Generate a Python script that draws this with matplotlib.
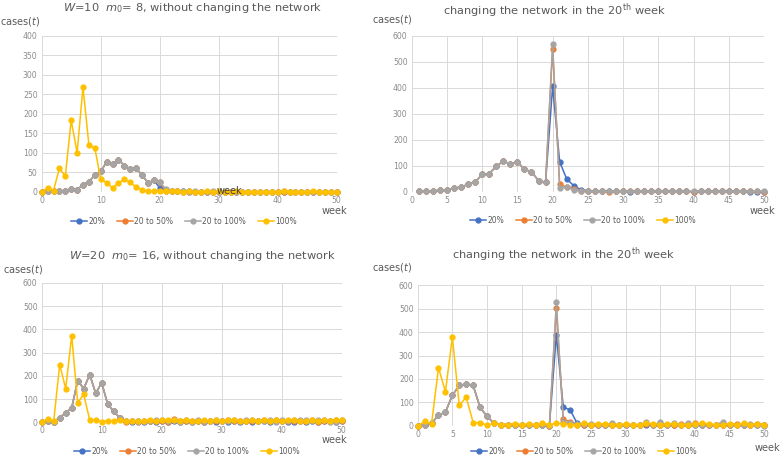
import matplotlib
matplotlib.use("Agg")
import matplotlib.pyplot as plt
from matplotlib.lines import Line2D

plt.rcParams['font.family'] = ['DejaVu Sans']

series_names = ["20%", "20 to 50%", "20 to 100%", "100%"]
colors = ["#4472C4", "#ED7D31", "#A5A5A5", "#FFC000"]

# ---------------- top-left: W=10, m0=8, without changing ----------------
tl_weeks = list(range(0, 51))
tl_gray = [0, 2, 3, 2, 2, 8, 5, 18, 26, 42, 52, 76, 71, 82, 67, 59, 60, 43, 23, 29,
           24, 8, 3, 2, 1, 0, 1, 0, 0, 2, 0, 0, 0, 0, 0, 0, 0, 0, 0, 0,
           0, 2, 0, 0, 0, 0, 0, 0, 0, 0, 0]
tl_blue = tl_gray[:20] + [10, 5, 3, 3, 2, 1, 0, 0, 0, 0, 0, 0, 0, 0, 0, 0, 0, 0, 0, 0,
                          0, 0, 0, 0, 0, 0, 0, 0, 0, 0, 0]
tl_orange = tl_gray[:21] + [2, 1, 1, 0, 0, 0, 0, 0, 0, 0, 0, 0, 0, 0, 0, 0, 0, 0, 0, 0,
                            0, 0, 0, 0, 0, 0, 0, 0, 0, 0]
tl_yellow = [0, 10, 3, 60, 40, 183, 100, 268, 120, 112, 33, 23, 10, 22, 32, 24, 12, 5, 1, 1,
             2, 2, 1, 1, 0, 2, 0, 0, 1, 0, 1, 0, 0, 1, 0, 0, 0, 0, 0, 0,
             0, 1, 0, 0, 0, 0, 1, 0, 0, 0, 0]

# ---------------- top-right: changing the network in week 20 ----------------
tr_weeks = list(range(1, 51))
tr_gray = [1, 3, 3, 5, 6, 13, 18, 28, 37, 67, 70, 97, 118, 106, 115, 86, 77, 42, 36,
           568,
           15, 18, 6, 4, 3, 2, 2, 1, 2, 1, 1, 1, 2, 1, 1, 2, 3, 2, 2, 1,
           2, 1, 1, 1, 2, 2, 1, 1, 1, 1]
tr_orange = tr_gray[:19] + [548,
                            28, 18, 12, 3, 2, 1, 1, 0, 2, 3, 1, 3, 2, 1, 3, 1, 2, 1, 1, 0,
                            1, 1, 2, 1, 2, 3, 2, 1, 1, 0]
tr_blue = tr_gray[:19] + [405,
                          115, 49, 23, 8, 4, 2, 4, 1, 1, 1, 0, 1, 1, 1, 1, 2, 2, 1, 1, 0,
                          1, 1, 1, 2, 1, 1, 1, 0, 0, 0]
tr_yellow = []

# ---------------- bottom-left: W=20, m0=16, without changing ----------------
bl_weeks = list(range(0, 51))
bl_gray = [0, 5, 2, 20, 42, 62, 180, 145, 205, 125, 170, 78, 47, 20, 5, 5, 3, 5, 5, 10, 8,
           5, 10, 3, 12, 3, 12, 3, 5, 8, 5, 5, 12, 5, 8, 10, 5, 5, 8, 2, 10,
           5, 12, 8, 10, 5, 12, 10, 2, 3, 12]
bl_orange = bl_gray[:14] + [3, 5, 3, 4, 6, 5, 6,
                            0, 15, 5, 7, 4, 6, 3, 5, 6, 4, 8, 6, 5, 7, 4, 6, 10, 5, 8,
                            6, 4, 5, 7, 6, 8, 3, 6, 5, 8, 5]
bl_blue = bl_gray[:14] + [4, 2, 5, 3, 6, 2, 5,
                          3, 6, 2, 5, 3, 7, 0, 4, 2, 6, 3, 5, 2, 6, 3, 5, 7, 2, 4,
                          6, 2, 0, 5, 3, 6, 2, 4, 6, 3, 4]
bl_yellow = [0, 15, 5, 248, 145, 373, 85, 120, 10, 10, 3, 7, 7, 8, 6, 5, 5, 5, 12, 5, 10,
             8, 8, 6, 10, 5, 6, 12, 5, 8, 6, 8, 8, 6, 7, 10, 6, 8, 5, 8, 6,
             12, 8, 6, 6, 8, 4, 12, 5, 12, 8]

# ---------------- bottom-right: changing the network in week 20 ----------------
br_weeks = list(range(0, 51))
br_gray = [0, 5, 10, 45, 58, 130, 172, 177, 172, 78, 40, 10, 5, 5, 5, 3, 3, 3, 3, 0, 528,
           15, 10, 8, 8, 8, 5, 3, 10, 3, 5, 3, 3, 15, 3, 15, 3, 12, 3, 12,
           3, 5, 3, 5, 15, 5, 3, 5, 8, 3, 0]
br_orange = br_gray[:20] + [502, 27, 17, 5,
                            3, 5, 3, 3, 5, 3, 3, 3, 5, 8, 3, 5, 3, 5, 8, 3, 10, 3, 5, 3,
                            5, 3, 8, 3, 3, 8, 5]
br_blue = br_gray[:20] + [388, 80, 67, 10,
                          3, 3, 3, 3, 3, 3, 3, 5, 3, 3, 3, 3, 3, 5, 3, 3, 3, 5, 3, 3,
                          3, 3, 3, 3, 3, 3, 3]
br_yellow = [0, 18, 8, 248, 145, 378, 87, 122, 13, 13, 2, 10, 5, 5, 8, 5, 8, 5, 10, 5, 10,
             8, 5, 5, 10, 5, 8, 8, 5, 5, 8, 5, 5, 10, 8, 5, 8, 8, 5, 5, 8,
             10, 8, 5, 5, 8, 5, 10, 5, 8, 5]

W, H = 782, 455
fig = plt.figure(figsize=(W / 100, H / 100), dpi=100)

TICK_C = "#8C8C8C"
TEXT_C = "#595959"
GRID_C = "#D9D9D9"


def make_axes(l, r, t, b):
    return fig.add_axes([l / W, 1 - b / H, (r - l) / W, (b - t) / H])


def draw_panel(ax, weeks, data, ymax, ystep, xstep):
    for (xs, ys), c in zip(data, colors):
        if len(ys):
            ax.plot(xs, ys, color=c, lw=1.1, marker='o', ms=3.5, mec=c, mfc=c,
                    clip_on=False, zorder=3)
    ax.set_xlim(0, 50)
    ax.set_ylim(0, ymax)
    ax.set_xticks(range(0, 51, xstep))
    ax.set_yticks(range(0, ymax + 1, ystep))
    ax.grid(True, color=GRID_C, lw=0.7)
    ax.set_axisbelow(True)
    for s in ax.spines.values():
        s.set_visible(False)
    ax.tick_params(length=0, labelsize=5.6, colors=TICK_C, pad=3)


def legend_at(cx, cy):
    handles = [Line2D([], [], color=c, lw=1.1, marker='o', ms=3.5) for c in colors]
    fig.legend(handles, series_names, loc='center', bbox_to_anchor=(cx / W, 1 - cy / H),
               ncol=4, frameon=False, fontsize=5.5, handlelength=2.1, columnspacing=1.5,
               handletextpad=0.2, labelcolor=TEXT_C, borderpad=0.1)


# top-left
ax1 = make_axes(41.7, 336.7, 35.7, 191.7)
draw_panel(ax1, tl_weeks,
           [(tl_weeks, tl_blue), (tl_weeks, tl_orange), (tl_weeks, tl_gray), (tl_weeks, tl_yellow)],
           400, 50, 10)
# top-right
ax2 = make_axes(411.7, 764.0, 35.7, 191.7)
draw_panel(ax2, tr_weeks,
           [(tr_weeks, tr_blue), (tr_weeks, tr_orange), (tr_weeks, tr_gray), (tr_weeks, tr_yellow)],
           600, 100, 5)
# bottom-left
ax3 = make_axes(41.7, 341.7, 283.0, 422.3)
draw_panel(ax3, bl_weeks,
           [(bl_weeks, bl_blue), (bl_weeks, bl_orange), (bl_weeks, bl_gray), (bl_weeks, bl_yellow)],
           600, 100, 10)
# bottom-right
ax4 = make_axes(417.7, 764.3, 285.3, 425.7)
draw_panel(ax4, br_weeks,
           [(br_weeks, br_blue), (br_weeks, br_orange), (br_weeks, br_gray), (br_weeks, br_yellow)],
           600, 100, 5)


def ftext(x, y, s, size, ha='center', color=TEXT_C, va='center'):
    fig.text(x / W, 1 - y / H, s, fontsize=size, ha=ha, va=va, color=color)


# titles
ftext(193, 1, r"$W$=10  $m_0$= 8, without changing the network", 8.2, va='top')
ftext(554, 1, r"changing the network in the 20$^{\rm th}$ week", 8.2, va='top')
ftext(202, 256, r"$W$=20  $m_0$= 16, without changing the network", 8.2)
ftext(563, 255, r"changing the network in the 20$^{\rm th}$ week", 8.2)

# y labels
ftext(0, 21, r"cases($t$)", 7, ha='left')
ftext(372, 20, r"cases($t$)", 7, ha='left')
ftext(3, 270, r"cases($t$)", 7, ha='left')
ftext(372, 267, r"cases($t$)", 7, ha='left')

# x labels
ftext(334, 211, "week", 7)
ftext(229, 191, "week", 7, color="#404040")
ftext(762, 211, "week", 7)
ftext(334, 440, "week", 7)
ftext(780, 448, "week", 7, ha='right')

# legends
legend_at(184, 221)
legend_at(583, 220)
legend_at(187, 451)
legend_at(584, 451)

fig.savefig("out.png", dpi=100)
